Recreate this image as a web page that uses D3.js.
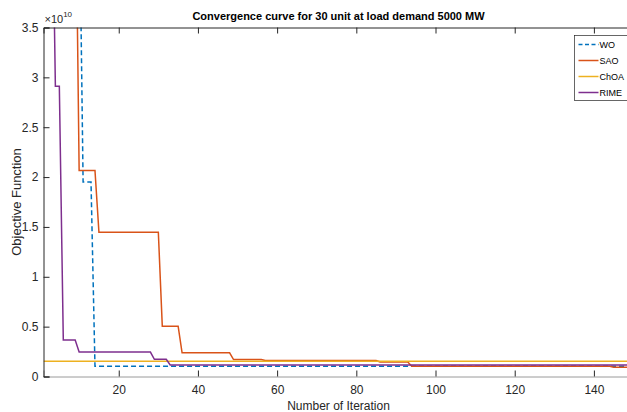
<!DOCTYPE html>
<html>
<head>
<meta charset="utf-8">
<script src="https://cdn.jsdelivr.net/npm/d3@7"></script>
<style>
  body { margin: 0; background: #fff; }
  svg { display: block; font-family: "Liberation Sans", Arial, sans-serif; }
</style>
</head>
<body>
<div id="chart-area"></div>
<script>
// datos (objetivo en unidades de 1e10), cada serie guardada como escalones:
// iteración donde empieza el escalón y su valor
var woIter = [1, 11, 14];
var woVal = [5.0, 1.95, 0.103];

var saoIter = [1, 10, 15, 31, 36, 49, 57, 86, 94, 145];
var saoVal = [5.4, 2.066, 1.447, 0.505, 0.237, 0.17, 0.16, 0.145, 0.103, 0.093];

var choaIter = [1];
var choaVal = [0.153];

var rimeIter = [1, 4, 6, 10, 29, 33];
var rimeVal = [5.5, 2.91, 0.365, 0.245, 0.172, 0.116];

var seriesNames = ["WO", "SAO", "ChOA", "RIME"];
var seriesColors = ["#0072BD", "#D95319", "#EDB120", "#7E2F8E"];
var xTicks = [20, 40, 60, 80, 100, 120, 140];
var yTicks = [0, 0.5, 1, 1.5, 2, 2.5, 3, 3.5];
var maxIter = 150;

var W = 627, H = 412;
var mLeft = 43.5, mRight = 633.5, mTop = 27.5, mBottom = 376.5;

var svg = d3.select("#chart-area").append("svg")
    .attr("width", W)
    .attr("height", H);

var x = d3.scaleLinear().domain([1, maxIter]).range([mLeft, mRight]);
var y = d3.scaleLinear().domain([0, 3.5]).range([mBottom, mTop]);

// clip del área de ejes
svg.append("defs").append("clipPath")
    .attr("id", "plot-clip")
    .append("rect")
    .attr("x", mLeft)
    .attr("y", mTop)
    .attr("width", mRight - mLeft)
    .attr("height", mBottom - mTop);

// escalones -> puntos (MATLAB une iteraciones consecutivas con rectas)
function stepPoints(iters, vals) {
    var pts = [];
    for (let k = 0; k < iters.length; k++) {
        if (k > 0) pts.push([iters[k] - 1, vals[k - 1]]);
        pts.push([iters[k], vals[k]]);
    }
    pts.push([maxIter, vals[vals.length - 1]]);
    return pts;
}

var series = [
    stepPoints(woIter, woVal),
    stepPoints(saoIter, saoVal),
    stepPoints(choaIter, choaVal),
    stepPoints(rimeIter, rimeVal)
];

var line = d3.line()
    .x(d => x(d[0]))
    .y(d => y(d[1]));

var plot = svg.append("g").attr("clip-path", "url(#plot-clip)");

series.forEach(function(pts, i) {
    plot.append("path")
        .datum(pts)
        .attr("fill", "none")
        .attr("stroke", seriesColors[i])
        .attr("stroke-width", 1.5)
        .attr("stroke-dasharray", i === 0 ? "5,3" : null)
        .attr("d", line);
});

// ejes
var axisColor = "#262626";

var gx = svg.append("g")
    .attr("transform", "translate(0," + mBottom + ")")
    .call(d3.axisBottom(x).tickValues(xTicks).tickSize(-6).tickPadding(9).tickFormat(d3.format("d")));

var gxTop = svg.append("g")
    .attr("transform", "translate(0," + mTop + ")")
    .call(d3.axisTop(x).tickValues(xTicks).tickSize(-6).tickFormat(""));

var gy = svg.append("g")
    .attr("transform", "translate(" + mLeft + ",0)")
    .call(d3.axisLeft(y).tickValues(yTicks).tickSize(-6).tickPadding(5).tickFormat(d3.format("~g")));

[gx, gxTop, gy].forEach(function(g) {
    g.select(".domain").attr("stroke", axisColor);
    g.selectAll(".tick line").attr("stroke", axisColor);
    g.selectAll(".tick text")
        .attr("fill", "#262626")
        .attr("font-size", "12px")
        .attr("font-family", "Liberation Sans, Arial, sans-serif");
});
gx.select(".domain").attr("stroke", "#9a9a9a");

// exponente
var expo = svg.append("text")
    .attr("x", mLeft + 1)
    .attr("y", 23)
    .attr("font-size", "11px")
    .attr("fill", "#262626");
expo.append("tspan").text("\u00d710");
expo.append("tspan").attr("font-size", "8px").attr("dy", -6).text("10");

// título
svg.append("text")
    .attr("x", (mLeft + mRight) / 2)
    .attr("y", 20)
    .attr("text-anchor", "middle")
    .attr("font-size", "11px")
    .attr("font-weight", "bold")
    .attr("fill", "#000")
    .text("Convergence curve for 30 unit at load demand 5000 MW");

// etiquetas de ejes
svg.append("text")
    .attr("x", (mLeft + mRight) / 2)
    .attr("y", 410)
    .attr("text-anchor", "middle")
    .attr("font-size", "12px")
    .attr("fill", "#262626")
    .text("Number of Iteration");

svg.append("text")
    .attr("transform", "translate(21," + ((mTop + mBottom) / 2) + ") rotate(-90)")
    .attr("text-anchor", "middle")
    .attr("font-size", "13px")
    .attr("fill", "#262626")
    .text("Objective Function");

// leyenda
var lg = svg.append("g").attr("transform", "translate(574.5,35.5)");
lg.append("rect")
    .attr("width", 70)
    .attr("height", 65)
    .attr("fill", "#fff")
    .attr("stroke", "#262626")
    .attr("stroke-width", 0.7);

seriesNames.forEach(function(name, i) {
    var yy = 9 + i * 16;
    lg.append("line")
        .attr("x1", 4)
        .attr("x2", 24)
        .attr("y1", yy)
        .attr("y2", yy)
        .attr("stroke", seriesColors[i])
        .attr("stroke-width", 1.5)
        .attr("stroke-dasharray", i === 0 ? "4,2.5" : null);
    lg.append("text")
        .attr("x", 25)
        .attr("y", yy + 3)
        .attr("font-size", "9px")
        .attr("fill", "#000")
        .text(name);
});
</script>
</body>
</html>
